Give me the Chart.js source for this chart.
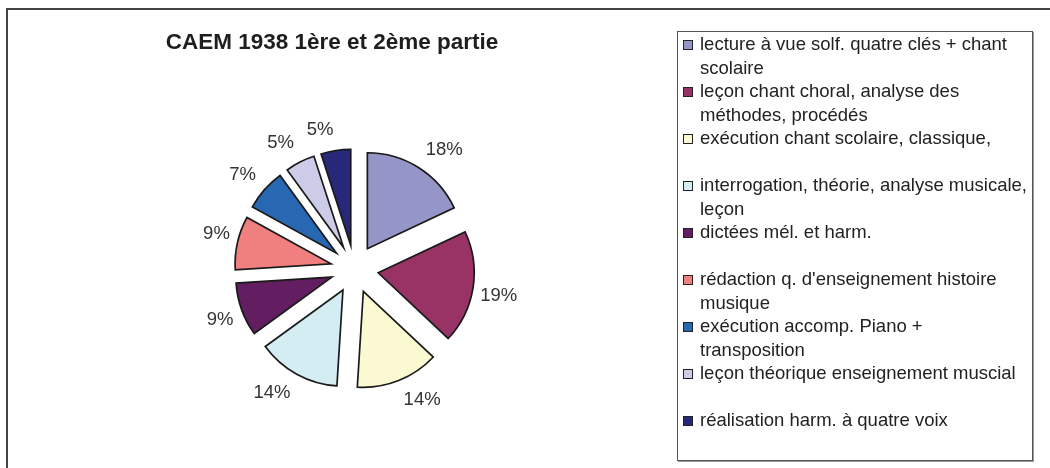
<!DOCTYPE html>
<html>
<head>
<meta charset="utf-8">
<script src="https://cdn.jsdelivr.net/npm/chart.js@4/dist/chart.umd.min.js"></script>
<style>
  html, body { margin: 0; padding: 0; width: 1050px; height: 468px; overflow: hidden; background: #fff; }
  #frame { position: absolute; left: 6px; top: 8px; width: 1100px; height: 500px;
           border-top: 2px solid #444; border-left: 2px solid #444; }
  #chart { position: absolute; left: 0; top: 0; }
  #title { position: absolute; left: 132px; width: 400px; top: 31px; text-align: center;
           font: bold 22.5px/22.5px "Liberation Sans", Arial, sans-serif; color: #1e1e1e; white-space: nowrap; }
  #legend { position: absolute; left: 677px; top: 31px; width: 354px; height: 428px;
            border: 1px solid #555; box-shadow: 1px 1px 0 #999; background: #fff; }
  .item { position: absolute; left: 0; width: 345px; height: 47px; }
  .sw { position: absolute; left: 5px; top: 8px; width: 8px; height: 8px; border: 1px solid #222; }
  .txt { position: absolute; left: 22px; top: 0; width: 330px;
         font: 18.5px/23.5px "Liberation Sans", Arial, sans-serif; color: #222; }
</style>
</head>
<body>
<div id="frame"></div>
<canvas id="chart" width="1050" height="468"></canvas>
<div id="title"></div>
<div id="legend"></div>
<script>
const chartTitle = 'CAEM 1938 1ère et 2ème partie';
const categories = [
  'lecture à vue solf. quatre clés + chant scolaire',
  'leçon chant choral, analyse des méthodes, procédés',
  'exécution chant scolaire, classique,',
  'interrogation, théorie, analyse musicale, leçon',
  'dictées mél. et harm.',
  "rédaction q. d'enseignement histoire musique",
  'exécution accomp. Piano + transposition',
  'leçon théorique enseignement muscial',
  'réalisation harm. à quatre voix'
];
const shares = [18, 19, 14, 14, 9, 9, 7, 5, 5];
const sliceColors = ['#9595C8', '#993366', '#FAF9D2', '#D3EDF3', '#621E60', '#F08080', '#2867B2', '#CCCCE8', '#28287A'];

const EXPLODE = 24;

const explodePlugin = {
  id: 'explode',
  beforeDatasetDraw(chart, args) {
    args.meta.data.forEach(arc => {
      const mid = (arc.startAngle + arc.endAngle) / 2;
      arc._ox = arc.x; arc._oy = arc.y;
      arc.x = arc._ox + Math.cos(mid) * EXPLODE;
      arc.y = arc._oy + Math.sin(mid) * EXPLODE;
    });
  },
  afterDatasetDraw(chart, args) {
    args.meta.data.forEach(arc => { arc.x = arc._ox; arc.y = arc._oy; });
  }
};

const pctLabels = {
  id: 'pctLabels',
  afterDatasetsDraw(chart) {
    const ctx = chart.ctx;
    const meta = chart.getDatasetMeta(0);
    const vals = chart.data.datasets[0].data;
    const total = vals.reduce((a, b) => a + b, 0);
    ctx.save();
    ctx.font = '18.5px "Liberation Sans", Arial, sans-serif';
    ctx.fillStyle = '#333';
    ctx.textAlign = 'center';
    ctx.textBaseline = 'middle';
    meta.data.forEach((arc, i) => {
      const mid = (arc.startAngle + arc.endAngle) / 2;
      const c = Math.cos(mid), s = Math.sin(mid);
      const txt = Math.round(vals[i] / total * 100) + '%';
      const w = ctx.measureText(txt).width;
      const r0 = arc.outerRadius + 30 + 8 * Math.abs(s);
      const x = arc.x + c * r0 + Math.sign(c) * w / 2;
      const y = arc.y + s * r0 + Math.sign(s) * 7;
      ctx.fillText(txt, x, y);
    });
    ctx.restore();
  }
};

const chart = new Chart(document.getElementById('chart'), {
  type: 'pie',
  data: {
    labels: categories,
    datasets: [{
      data: shares,
      backgroundColor: sliceColors,
      borderColor: '#1a1a1a',
      borderWidth: 1.7,
      borderJoinStyle: 'miter'
    }]
  },
  options: {
    responsive: false,
    devicePixelRatio: 1,
    animation: false,
    radius: 96,
    rotation: 0,
    layout: { padding: { left: 100, right: 441, top: 90, bottom: 20 } },
    plugins: { legend: { display: false }, title: { display: false }, tooltip: { enabled: false } }
  },
  plugins: [explodePlugin, pctLabels]
});

document.getElementById('title').textContent = chartTitle;
const legend = document.getElementById('legend');
chart.data.labels.forEach((lab, i) => {
  const it = document.createElement('div');
  it.className = 'item';
  it.style.top = (i * 47) + 'px';
  const sw = document.createElement('div');
  sw.className = 'sw';
  sw.style.background = chart.data.datasets[0].backgroundColor[i];
  const tx = document.createElement('div');
  tx.className = 'txt';
  tx.textContent = lab;
  it.appendChild(sw); it.appendChild(tx);
  legend.appendChild(it);
});
</script>
</body>
</html>
